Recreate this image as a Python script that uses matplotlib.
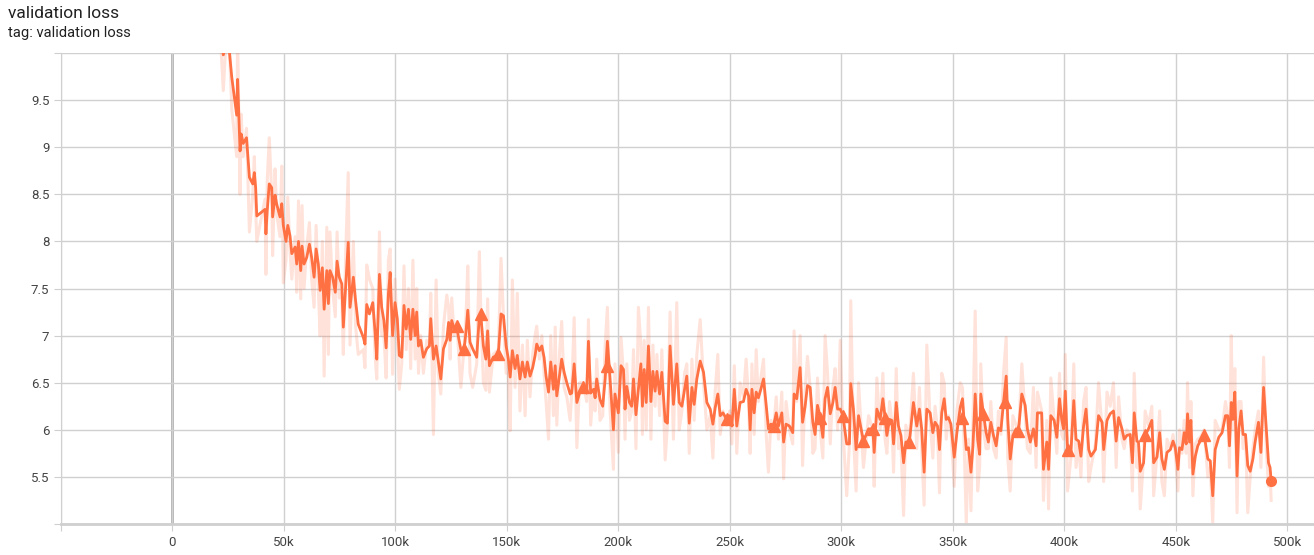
import matplotlib
matplotlib.use('Agg')
import matplotlib.pyplot as plt
import numpy as np

plt.rcParams['font.family'] = ['Roboto', 'DejaVu Sans']

# steps (k), smoothed value, raw value
steps_k = [
    20, 23, 25, 26.8, 29.0, 29.4, 30.5, 31.0, 31.9, 33.4, 34.7, 36.2, 36.9, 37.5, 38.0,
    41.7, 42.1, 42.7, 43.6, 44.7, 45.1, 46.2, 46.9, 48.4, 49.2, 49.9, 51.1, 51.9, 52.9,
    53.7, 55.2, 55.9, 56.7, 57.7, 58.3, 59.2, 60.4, 61.6, 62.6, 63.7, 64.6, 65.6, 66.4,
    67.4, 68.2, 69.4, 70.1, 70.8, 72.0, 73.2, 74.0, 75.0, 76.1, 76.8, 77.9, 79.0, 79.8,
    81.3, 82.3, 83.5, 85.8, 86.5, 87.3, 88.5, 90.0, 91.0, 91.8, 93.0, 94.0, 95.0, 96.0,
    97.0, 97.8, 98.9, 100.0, 101.0, 101.9, 103.0, 104.0, 105.0, 106.0, 107.0, 108.0,
    109.0, 109.7, 110.5, 111.5, 112.7, 114.2, 115.4, 116.0, 117.2, 118.4, 119.4, 120.5,
    121.7, 123.2, 124.0, 124.7, 125.4, 126.5, 127.7, 128.3, 129.5, 131.0, 131.8, 132.6,
    133.6, 134.8, 136.6, 137.8, 138.4, 139.6, 140.7, 141.5, 142.3, 144.0, 146.3, 147.5,
    148.6, 149.8, 150.8, 151.6, 152.6, 153.8, 154.8, 156.0, 157.1, 158.3, 159.3, 160.5,
    161.7, 162.8, 163.5, 164.7, 165.8, 166.8, 167.7, 168.8, 169.8, 171.0, 171.8, 172.5,
    173.7, 174.7, 175.8, 177.0, 178.5, 179.2, 180.3, 181.5, 182.7, 184.4, 185.9, 186.7,
    187.7, 189.0, 189.7, 190.4, 191.9, 193.1, 194.2, 195.2, 196.4, 197.9, 198.6, 200.1,
    201.3, 202.4, 203.1, 203.9, 205.1, 206.1, 206.9, 208.0, 209.1, 210.2, 210.9, 211.7,
    212.6, 213.6, 214.7, 215.6, 216.6, 217.4, 218.6, 219.6, 221.1, 222.1, 223.3, 224.8,
    226.3, 227.4, 228.6, 229.8, 230.8, 231.9, 233.1, 234.1, 235.3, 236.8, 238.3, 239.8,
    241.3, 242.5, 243.5, 244.7, 245.8, 247.0, 248.7, 250.0, 251.0, 252.1, 253.2, 254.7,
    256.2, 257.4, 258.5, 259.2, 260.0, 261.0, 261.9, 262.9, 264.0, 265.2, 266.4, 267.4,
    268.5, 269.7, 270.9, 271.9, 273.4, 274.2, 275.3, 276.8, 278.3, 278.9, 280.1, 281.6,
    282.7, 283.8, 284.9, 286.1, 287.3, 288.3, 289.4, 290.6, 291.8, 292.8, 293.9, 295.1,
    296.3, 297.3, 298.4, 299.6, 300.8, 302.5, 303.7, 304.3, 305.5, 306.7, 307.8, 310.0,
    312.3, 314.2, 314.8, 316.0, 317.5, 318.7, 319.7, 320.5, 321.7, 322.7, 323.5, 324.7,
    325.7, 326.8, 328.0, 329.0, 330.6, 332.4, 333.9, 335.1, 336.1, 337.2, 338.4, 339.9,
    341.1, 342.1, 343.2, 344.1, 345.1, 346.2, 347.1, 348.1, 349.2, 350.7, 351.9, 353.4,
    354.4, 355.2, 356.1, 357.1, 358.2, 359.1, 360.1, 361.2, 362.1, 362.6, 363.8, 365.0,
    366.0, 367.1, 368.3, 369.5, 370.5, 371.6, 372.8, 374.0, 374.7, 375.8, 377.0, 378.4,
    379.5, 381.0, 382.5, 383.5, 384.8, 386.2, 387.4, 388.0, 389.9, 390.7, 392.2, 393.0,
    394.0, 395.5, 396.7, 397.9, 398.9, 399.7, 400.5, 401.5, 403.0, 404.3, 405.3, 406.5,
    407.5, 408.7, 409.8, 411.0, 412.0, 414.0, 415.4, 417.0, 417.7, 419.2, 420.6, 422.1,
    423.3, 424.4, 425.9, 426.9, 428.1, 429.6, 430.6, 431.4, 432.6, 433.3, 434.1, 435.6,
    436.3, 437.8, 439.3, 440.1, 441.6, 442.8, 443.8, 444.9, 446.1, 447.6, 448.8, 449.8,
    451.0, 451.7, 452.8, 453.8, 454.7, 455.3, 456.2, 456.8, 457.7, 458.8, 459.9, 461.0,
    462.8, 464.4, 465.5, 466.6, 467.7, 469.3, 470.8, 472.3, 473.3, 474.1, 474.9, 475.6,
    476.5, 477.5, 478.3, 479.3, 480.2, 481.3, 482.3, 483.4, 484.6, 485.6, 487.1, 488.2,
    489.4, 490.6, 491.6, 492.3, 492.8,
]

smoothed = [
    10.8, 9.98, 10.2, 9.74, 9.34, 9.72, 8.96, 9.14, 9.04, 9.10, 8.68, 8.61, 8.73, 8.57, 8.27,
    8.34, 8.08, 8.33, 8.61, 8.57, 8.26, 8.49, 8.40, 8.26, 8.40, 8.17, 8.00, 8.17, 8.06,
    7.87, 7.94, 7.76, 8.00, 7.69, 7.95, 7.76, 7.83, 7.97, 7.83, 7.62, 7.92, 7.76, 7.48,
    7.72, 7.28, 7.69, 7.34, 7.69, 7.62, 7.46, 7.79, 7.62, 7.55, 7.09, 7.55, 7.99, 7.30,
    7.62, 7.37, 7.12, 6.98, 6.91, 7.33, 7.23, 7.35, 7.05, 6.75, 7.65, 7.30, 7.16, 6.87,
    7.44, 7.67, 7.00, 7.35, 7.18, 6.79, 6.77, 7.32, 7.07, 7.28, 6.96, 7.28,
    7.00, 7.25, 6.89, 6.95, 6.77, 6.86, 6.89, 7.18, 6.75, 6.89, 6.72, 6.54,
    6.86, 6.96, 7.14, 6.95, 7.16, 7.07, 7.10, 7.00, 6.85, 6.86, 7.04, 7.27,
    6.93, 6.86, 6.77, 7.21, 7.23, 6.89, 6.75, 7.05, 6.68, 6.77, 6.80, 7.23,
    7.21, 6.89, 6.75, 6.56, 6.84, 6.65, 6.79, 6.54, 6.72, 6.56, 6.72, 6.57,
    6.66, 6.79, 6.91, 6.84, 6.89, 6.77, 6.57, 6.40, 6.72, 6.43, 6.68, 6.36,
    6.57, 6.75, 6.61, 6.50, 6.38, 6.39, 6.70, 6.29, 6.39, 6.45, 6.39, 6.94,
    6.39, 6.43, 6.34, 6.54, 6.32, 6.25, 6.54, 6.94, 6.54, 6.00, 6.38, 6.18,
    6.68, 6.64, 6.22, 6.46, 6.29, 6.25, 6.54, 6.16, 6.43, 6.70, 6.25, 6.64,
    6.29, 6.89, 6.30, 6.62, 6.41, 6.62, 6.38, 6.61, 6.09, 6.07, 6.89, 6.27,
    6.70, 6.29, 6.25, 6.43, 6.57, 6.07, 6.45, 6.27, 6.54, 6.73, 6.61, 6.29,
    6.22, 6.06, 6.23, 6.38, 6.15, 6.18, 6.11, 6.15, 6.04, 6.43, 6.04, 6.29,
    6.30, 6.43, 6.36, 6.00, 6.43, 6.18, 6.40, 6.34, 6.43, 6.54, 6.26, 6.01,
    6.06, 6.04, 6.18, 6.04, 6.18, 5.87, 6.06, 6.04, 5.97, 6.38, 6.33, 6.66,
    6.08, 6.24, 6.47, 6.45, 6.08, 5.95, 6.26, 6.13, 5.92, 6.33, 6.45, 6.17,
    6.29, 6.45, 6.22, 6.22, 6.15, 5.85, 5.85, 6.49, 6.22, 5.79, 6.15, 5.88,
    6.01, 6.01, 5.76, 6.22, 6.11, 6.33, 6.13, 5.94, 6.11, 6.10, 5.85, 6.29,
    6.04, 5.94, 5.65, 5.87, 5.87, 6.29, 6.04, 6.22, 6.01, 5.55, 6.22, 6.18,
    5.97, 6.08, 6.04, 5.79, 6.18, 6.33, 6.11, 6.13, 6.06, 5.71, 5.97, 6.24,
    6.33, 6.08, 5.79, 5.81, 5.55, 5.83, 6.38, 5.90, 5.74, 6.38, 6.17, 5.97,
    5.87, 6.08, 5.94, 5.83, 6.02, 5.99, 6.29, 6.57, 6.11, 5.69, 5.94, 6.01,
    5.99, 6.38, 6.26, 6.01, 5.87, 6.01, 5.83, 6.18, 6.18, 5.58, 5.87, 5.58,
    6.15, 6.10, 5.92, 6.33, 6.11, 6.01, 6.41, 5.79, 5.76, 6.31, 5.90, 5.88,
    5.72, 6.04, 6.22, 5.79, 5.72, 5.79, 6.15, 6.08, 5.79, 6.10, 6.17, 6.20,
    5.88, 6.13, 6.01, 5.90, 5.94, 5.95, 5.65, 6.18, 5.88, 5.87, 5.56, 5.65,
    5.94, 6.01, 6.10, 5.65, 5.71, 5.97, 5.69, 5.58, 5.76, 5.79, 5.88, 5.81,
    5.58, 5.81, 5.79, 5.97, 5.85, 6.17, 5.87, 6.10, 5.53, 5.72, 5.83, 5.88,
    5.94, 5.69, 5.67, 5.30, 5.79, 5.92, 5.97, 6.15, 6.15, 5.83, 6.29, 6.11,
    6.40, 5.51, 6.01, 6.20, 5.95, 5.95, 5.62, 5.56, 5.69, 5.87, 6.08, 5.76,
    6.45, 6.01, 5.65, 5.60, 5.46,
]

raw = [
    10.9, 9.6, 10.5, 9.4, 8.9, 10.2, 8.5, 9.35, 8.9, 9.2, 8.1, 8.5, 8.9, 8.35, 8.0,
    8.45, 7.65, 8.65, 9.1, 8.5, 7.85, 8.77, 8.3, 8.05, 8.8, 7.56, 7.8, 8.47, 7.9,
    7.6, 8.05, 7.46, 8.43, 7.39, 8.38, 7.5, 7.95, 8.2, 7.6, 7.3, 8.17, 7.5, 7.0,
    8.0, 6.57, 8.15, 6.8, 8.1, 7.5, 7.2, 8.1, 7.4, 7.45, 6.8, 7.9, 8.73, 6.9,
    8.0, 7.1, 6.8, 6.85, 6.66, 7.75, 7.6, 7.5, 6.8, 6.54, 8.1, 7.0, 7.0, 6.55,
    7.8, 7.92, 6.59, 7.6, 7.0, 6.43, 6.7, 7.74, 6.85, 7.5, 6.65, 7.8,
    6.75, 7.5, 6.6, 7.0, 6.6, 6.95, 6.9, 7.45, 5.95, 7.59, 6.6, 6.38,
    7.1, 7.43, 7.3, 6.75, 7.4, 7.0, 7.15, 6.9, 6.45, 6.9, 7.2, 7.74,
    6.6, 6.45, 6.7, 7.89, 7.3, 6.5, 6.42, 7.39, 6.4, 6.8, 6.85, 7.82,
    7.2, 6.6, 6.6, 5.99, 7.59, 6.45, 7.45, 6.2, 6.9, 6.15, 6.95, 6.35,
    6.8, 7.0, 7.1, 6.75, 7.0, 6.6, 6.3, 5.9, 7.0, 6.15, 7.09, 6.05,
    6.8, 7.15, 6.45, 6.35, 6.1, 6.4, 7.19, 5.81, 6.5, 6.5, 6.3, 7.17,
    6.05, 6.5, 6.2, 6.75, 6.1, 6.15, 6.9, 7.3, 6.2, 5.58, 6.7, 5.76,
    6.98, 6.6, 5.9, 6.7, 6.1, 6.2, 6.85, 5.8, 7.3, 6.9, 5.95, 6.95,
    6.0, 7.3, 5.9, 6.9, 6.25, 6.8, 6.15, 6.85, 5.68, 6.05, 7.25, 5.9,
    7.35, 6.0, 6.2, 6.6, 6.7, 5.75, 6.75, 6.1, 6.8, 7.17, 6.5, 6.0,
    6.15, 5.7, 6.4, 6.8, 5.95, 6.2, 6.05, 6.2, 5.85, 6.68, 5.75, 6.5,
    6.35, 6.75, 6.3, 5.75, 6.7, 5.95, 6.85, 6.3, 6.55, 6.75, 5.95, 5.55,
    6.1, 6.0, 6.35, 5.9, 6.4, 5.48, 6.3, 6.0, 5.85, 7.05, 6.3, 7.0,
    5.62, 6.4, 6.78, 6.45, 5.75, 5.8, 6.55, 6.0, 5.7, 7.0, 6.6, 5.85,
    6.45, 6.65, 6.0, 6.95, 6.0, 5.3, 5.85, 7.37, 5.95, 5.35, 6.5, 5.6,
    6.15, 6.0, 5.4, 6.55, 6.0, 6.6, 5.9, 5.75, 6.3, 6.1, 5.55, 6.65,
    5.8, 5.85, 5.09, 6.05, 5.9, 6.6, 5.8, 6.45, 5.8, 5.2, 6.9, 6.1,
    5.7, 6.25, 6.0, 5.33, 6.6, 6.5, 5.9, 6.15, 6.0, 5.4, 6.2, 6.5,
    6.45, 5.8, 5.01, 5.9, 5.14, 6.1, 7.26, 5.35, 5.6, 6.7, 6.0, 5.8,
    5.8, 6.3, 5.8, 5.7, 6.2, 5.95, 6.6, 6.98, 5.7, 5.35, 6.15, 6.05,
    5.95, 6.7, 6.15, 5.8, 5.75, 6.45, 5.6, 6.4, 6.2, 5.25, 6.1, 5.16,
    6.55, 6.1, 5.75, 6.6, 5.95, 5.9, 6.8, 5.35, 5.7, 6.7, 5.6, 5.85,
    5.5, 6.3, 6.45, 5.45, 5.6, 5.85, 6.5, 6.0, 5.45, 6.4, 6.25, 6.5,
    5.6, 6.35, 5.9, 5.8, 6.0, 5.95, 5.35, 6.6, 5.6, 5.85, 5.16, 5.7,
    6.2, 6.05, 6.25, 5.3, 5.75, 6.2, 5.45, 5.3, 5.9, 5.8, 5.95, 5.75,
    5.35, 6.0, 5.75, 6.1, 5.75, 6.5, 5.6, 6.3, 5.3, 5.85, 5.9, 5.92,
    6.0, 5.5, 5.6, 5.01, 6.1, 6.0, 6.0, 6.3, 6.15, 5.6, 7.0, 6.0,
    6.65, 5.12, 6.3, 6.3, 5.8, 5.95, 5.12, 5.5, 5.8, 6.0, 6.2, 5.6,
    6.77, 5.8, 5.4, 5.55, 5.25,
]

# triangle markers sitting on the smoothed curve
tri_steps_k = [127.7, 131.0, 138.4, 146.3, 184.4, 195.0, 248.7, 269.7, 290.6, 300.8,
               310.0, 314.2, 319.7, 330.6, 354.0, 363.8, 373.5, 379.5, 401.5, 436.3, 462.8]
tri_vals = [7.10, 6.86, 7.23, 6.80, 6.45, 6.68, 6.11, 6.04, 6.13, 6.15,
            5.88, 6.01, 6.13, 5.87, 6.12, 6.17, 6.29, 5.99, 5.79, 5.94, 5.94]

xticks = [-50000, 0, 50000, 100000, 150000, 200000, 250000, 300000, 350000, 400000, 450000, 500000]
xlabels = ['', '0', '50k', '100k', '150k', '200k', '250k', '300k', '350k', '400k', '450k', '500k']
yticks = [5.0, 5.5, 6.0, 6.5, 7.0, 7.5, 8.0, 8.5, 9.0, 9.5, 10.0]
ylabels = ['', '5.5', '6', '6.5', '7', '7.5', '8', '8.5', '9', '9.5', '']

color = '#ff7043'
steps = np.array(steps_k) * 1000

fig = plt.figure(figsize=(13.14, 5.55), dpi=100)
ax = fig.add_axes([60.5 / 1314, 31 / 555, 1 - 60.5 / 1314, 471 / 555])

ax.plot(steps, raw, color=color, alpha=0.2, lw=2.2, zorder=2)
ax.plot(steps, smoothed, color=color, lw=2.0, zorder=3)
ax.plot(np.array(tri_steps_k) * 1000, tri_vals, ls='none', marker='^', ms=9,
        color=color, zorder=4)
ax.plot(steps[-1], smoothed[-1], ls='none', marker='o', ms=7, color=color, zorder=5)

ax.set_xlim(-50000, 512000)
ax.set_ylim(5.0, 10.0)
ax.set_xticks(xticks)
ax.set_xticklabels(xlabels)
ax.set_yticks(yticks)
ax.set_yticklabels(ylabels)

ax.grid(True, color='#d0d0d0', lw=1.0, zorder=0)
ax.axvline(0, color='#9e9e9e', lw=1.8, zorder=1)

for s in ['top', 'right']:
    ax.spines[s].set_visible(False)
ax.spines['left'].set_color('#d0d0d0')
ax.spines['bottom'].set_color('#cfcfcf')
ax.spines['bottom'].set_linewidth(2)
ax.tick_params(axis='both', colors='#cfcfcf', labelcolor='#444444', labelsize=9.5, length=5)
ax.tick_params(axis='y', pad=3)
ax.tick_params(axis='x', pad=4)

fig.text(8 / 1314, 1 - 14 / 555, 'validation loss', fontsize=12.5, color='#212121', va='center')
fig.text(8 / 1314, 1 - 33 / 555, 'tag: validation loss', fontsize=10.6, color='#212121', va='center')

fig.savefig('out.png', dpi=100)
